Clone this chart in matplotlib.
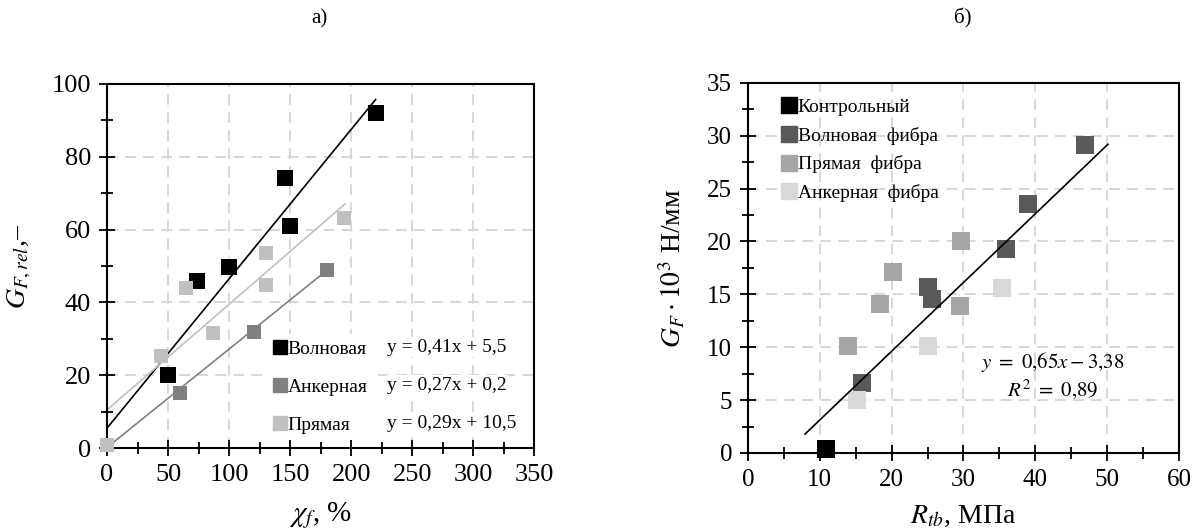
import matplotlib
matplotlib.use("Agg")
import matplotlib.pyplot as plt
from matplotlib.lines import Line2D
from matplotlib.ticker import MultipleLocator
import numpy as np

plt.rcParams['font.family'] = ['Liberation Serif', 'DejaVu Serif']
plt.rcParams['mathtext.fontset'] = 'stix'

# --- a) data ---
wave_x = [50, 74, 100, 146, 150, 220]
wave_y = [20.2, 45.8, 49.6, 74.3, 61.1, 92.1]
anchor_x = [60, 120, 180]
anchor_y = [15.2, 31.8, 48.9]
straight_x = [0, 44, 65, 87, 130, 130, 194]
straight_y = [0.9, 25.4, 43.9, 31.6, 53.7, 44.7, 63.1]

left_names = ['Волновая', 'Анкерная', 'Прямая']
left_eqs = ['y = 0,41x + 5,5', 'y = 0,27x + 0,2', 'y = 0,29x + 10,5']
left_slopes = [0.41, 0.27, 0.29]
left_icpts = [5.5, 0.2, 10.5]
left_xmax = [220, 180, 195]
left_colors = ['#000000', '#808080', '#c0c0c0']

# --- б) data ---
ctrl_x = [10.8]
ctrl_y = [0.4]
wfib_x = [15.9, 25.1, 25.6, 35.9, 39.0, 46.9]
wfib_y = [6.6, 15.7, 14.6, 19.3, 23.5, 29.1]
sfib_x = [13.9, 18.4, 20.2, 29.7, 29.5]
sfib_y = [10.1, 14.1, 17.1, 20.0, 13.9]
afib_x = [15.2, 25.0, 35.3]
afib_y = [5.0, 10.1, 15.6]
right_names = ['Контрольный', 'Волновая  фибра', 'Прямая  фибра', 'Анкерная  фибра']
right_colors = ['#000000', '#595959', '#a6a6a6', '#d9d9d9']
fit_slope, fit_icpt = 0.65, -3.38
fit_range = [7.95, 50.1]

fig = plt.figure(figsize=(11.92, 5.31), dpi=100)
ax1 = fig.add_axes([0.0898, 0.156, 0.3584, 0.686])
ax2 = fig.add_axes([0.6275, 0.147, 0.3616, 0.697])


def style(ax):
    ax.grid(True, which='major', color='#d4d4d4', linestyle=(0, (6, 4)), linewidth=1.3)
    ax.set_axisbelow(True)
    for s in ax.spines.values():
        s.set_linewidth(1.5)
        s.set_color('black')
    ax.tick_params(which='both', direction='inout', top=False, right=False, width=1.3)
    ax.tick_params(which='major', length=11, pad=6)
    ax.tick_params(which='minor', length=9)


# ---- left chart ----
style(ax1)
groups = [(wave_x, wave_y, 130), (anchor_x, anchor_y, 115), (straight_x, straight_y, 115)]
for (gx, gy, sz), k, b, xm, c in zip(groups, left_slopes, left_icpts, left_xmax, left_colors):
    xs = np.array([0, xm])
    ax1.plot(xs, k * xs + b, color=c, linewidth=1.2, zorder=2)
    ax1.scatter(gx, gy, marker='s', s=sz, color=c, linewidths=0, zorder=3, clip_on=False)

ax1.set_xlim(0, 350)
ax1.set_ylim(0, 100)
ax1.xaxis.set_major_locator(MultipleLocator(50))
ax1.xaxis.set_minor_locator(MultipleLocator(25))
ax1.yaxis.set_major_locator(MultipleLocator(20))
ax1.yaxis.set_minor_locator(MultipleLocator(10))
ax1.tick_params(labelsize=19)
ax1.set_xlabel(r'$\chi_f$, %', fontsize=21, labelpad=10)
ax1.set_ylabel(r'$G_{F,rel}$,–', fontsize=20, labelpad=13)

handles = [Line2D([], [], marker='s', linestyle='none', color=c, markersize=10) for c in left_colors]
leg1 = ax1.legend(handles, left_names, loc='lower left', bbox_to_anchor=(0.355, -0.003),
                  fontsize=14, frameon=True, facecolor='white', edgecolor='none', framealpha=1,
                  handlelength=0.6, handletextpad=0.1, labelspacing=1.05, borderpad=0.3)
leg1.set_zorder(4)
for yy, eq in zip([0.277, 0.173, 0.069], left_eqs):
    ax1.text(0.655, yy, eq, transform=ax1.transAxes, fontsize=14, ha='left', va='center',
             zorder=5, bbox=dict(facecolor='white', edgecolor='none', pad=1))

# ---- right chart ----
style(ax2)
for gx, gy, c in zip([ctrl_x, wfib_x, sfib_x, afib_x], [ctrl_y, wfib_y, sfib_y, afib_y], right_colors):
    ax2.scatter(gx, gy, marker='s', s=160, color=c, linewidths=0, zorder=3, clip_on=False)
xs = np.array(fit_range)
ax2.plot(xs, fit_slope * xs + fit_icpt, color='black', linewidth=1.2, zorder=4)

ax2.set_xlim(0, 60)
ax2.set_ylim(0, 35)
ax2.xaxis.set_major_locator(MultipleLocator(10))
ax2.xaxis.set_minor_locator(MultipleLocator(5))
ax2.yaxis.set_major_locator(MultipleLocator(5))
ax2.yaxis.set_minor_locator(MultipleLocator(2.5))
ax2.tick_params(labelsize=18)
ax2.set_xlabel(r'$R_{tb}$, МПа', fontsize=20, labelpad=9)
ax2.set_ylabel(r'$G_F \cdot 10^3$ Н/мм', fontsize=20, labelpad=14)

handles2 = [Line2D([], [], marker='s', linestyle='none', color=c, markersize=11) for c in right_colors]
ax2.legend(handles2, right_names, loc='upper left', bbox_to_anchor=(0.045, 1.0),
           fontsize=14, frameon=False, handlelength=0.6, handletextpad=0.15,
           labelspacing=0.55, borderpad=0.3)
ax2.text(42.4, 8.6, r'$y\ =\ 0{,}65x - 3{,}38$', fontsize=15, ha='center', va='center')
ax2.text(42.4, 6.0, r'$R^2\ =\ 0{,}89$', fontsize=15, ha='center', va='center')

fig.text(0.268, 0.965, 'а)', fontsize=15, ha='center', va='center')
fig.text(0.808, 0.965, 'б)', fontsize=15, ha='center', va='center')

fig.savefig('out.png', dpi=100, facecolor='white')
